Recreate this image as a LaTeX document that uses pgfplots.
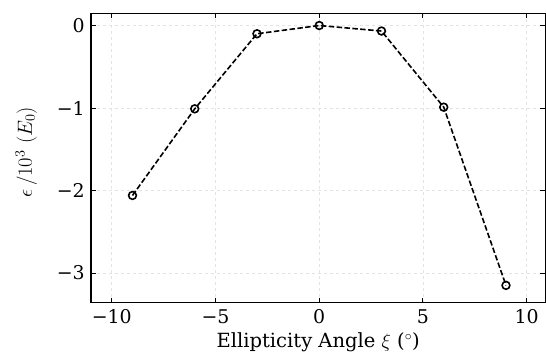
\RequirePackage{fix-cm}
\documentclass[border=0pt]{standalone}
\usepackage{pgfplots}
\pgfplotsset{compat=1.18}
\usepackage{fontspec}
\setmainfont{DejaVu Serif}
\begin{document}
\begin{tikzpicture}
\useasboundingbox (-91bp,-50.3bp) rectangle (455bp,302.7bp);
\begin{axis}[
  at={(0,0)}, anchor=south west,
  scale only axis, width=454.4bp, height=289.4bp,
  xmin=-11, xmax=10.9, ymin=-3.36, ymax=0.148,
  xtick={-10,-5,0,5,10}, xticklabels={−10,−5,0,5,10},
  ytick={-3,-2,-1,0}, yticklabels={−3,−2,−1,0},
  tick align=inside, major tick length=5bp, minor tick num=0,
  grid=major, grid style={dashed, gray!22, line width=0.5bp},
  axis line style={line width=1.3bp}, tick style={black, line width=1bp},
  tick label style={font=\fontsize{19}{19}\selectfont},
  xticklabel style={yshift=-3bp},
  yticklabel style={xshift=-2.7bp},
  xlabel style={font=\fontsize{19.6}{19.6}\selectfont},
  ylabel style={font=\fontsize{20.5}{20.5}\selectfont},
  xlabel={Ellipticity Angle $\xi$ ($^\circ$)},
  ylabel={$\epsilon\,/10^3\ (E_0)$},
  xlabel style={at={(axis description cs:0.5,0)}, anchor=base, yshift=-45bp},
  ylabel style={at={(axis description cs:-0.13,0.52)}, anchor=base},
]
\addplot[black, line width=1.6bp, dash pattern=on 5.5bp off 2.4bp,
  mark=o, mark size=3.9bp, mark options={solid, fill=white, line width=1.6bp}]
  coordinates {(-9,-2.06) (-6,-1.01) (-3,-0.10) (0,0) (3,-0.067) (6,-0.99) (9,-3.15)};
\end{axis}
\end{tikzpicture}
\end{document}
